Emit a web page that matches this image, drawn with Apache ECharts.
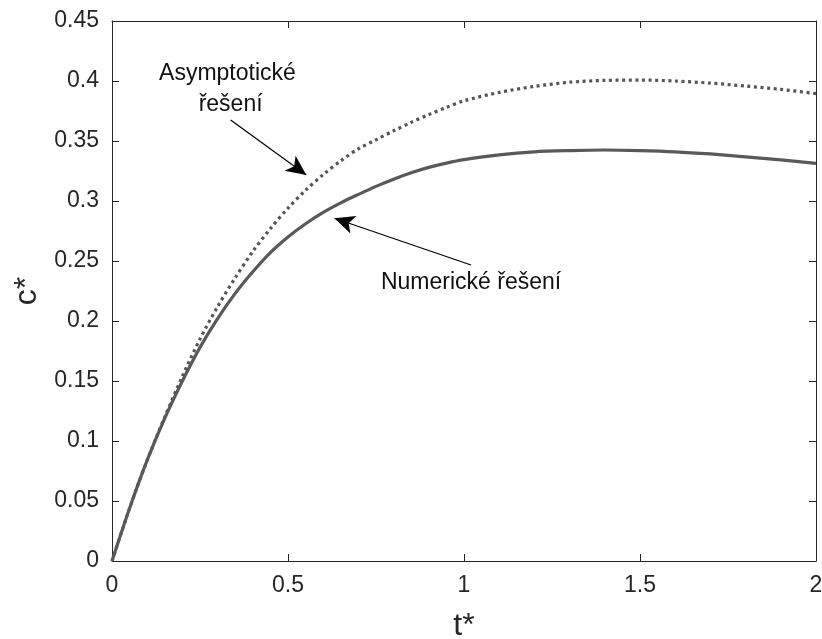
<!DOCTYPE html>
<html>
<head>
<meta charset="utf-8">
<script src="https://cdn.jsdelivr.net/npm/echarts@6/dist/echarts.min.js"></script>
<style>html,body{margin:0;padding:0;background:#fff;}#c{width:822px;height:639px;}</style>
</head>
<body>
<div id="c"></div>
<script>
// t* values
var tValues = [0, 0.05, 0.1, 0.15, 0.2, 0.25, 0.3, 0.35, 0.4, 0.45, 0.5, 0.55, 0.6, 0.65, 0.7, 0.75, 0.8, 0.85, 0.9, 0.95, 1.0, 1.1, 1.2, 1.3, 1.4, 1.5, 1.6, 1.7, 1.8, 1.9, 2.0];
// Numerické řešení (solid)
var numericValues = [0, 0.044, 0.084, 0.119, 0.150, 0.178, 0.202, 0.223, 0.241, 0.257, 0.270, 0.281, 0.2905, 0.2985, 0.3055, 0.3122, 0.3182, 0.3235, 0.328, 0.3316, 0.3345, 0.3385, 0.341, 0.342, 0.3425, 0.342, 0.341, 0.3392, 0.3368, 0.3342, 0.3314];
// Asymptotické řešení (dotted)
var asymptoticValues = [0, 0.044, 0.084, 0.120, 0.154, 0.185, 0.212, 0.236, 0.258, 0.277, 0.294, 0.309, 0.322, 0.3335, 0.3435, 0.351, 0.3585, 0.3655, 0.372, 0.378, 0.3835, 0.3905, 0.3955, 0.399, 0.4005, 0.4008, 0.4, 0.3982, 0.3958, 0.393, 0.3895];
var xTicks = [0, 0.5, 1, 1.5, 2];
var yTicks = [0, 0.05, 0.1, 0.15, 0.2, 0.25, 0.3, 0.35, 0.4, 0.45];
// annotation arrows in data coordinates: [from, to]
var arrowAsym = [[0.337, 0.3675], [0.552, 0.3217]];
var arrowNum = [[1.020, 0.2467], [0.632, 0.2856]];
var labelAsym1 = {text: 'Asymptotické', at: [0.328, 0.406]};
var labelAsym2 = {text: 'řešení', at: [0.337, 0.380]};
var labelNum = {text: 'Numerické řešení', at: [1.020, 0.232]};

function pairs(xs, ys) { return xs.map(function (x, i) { return [x, ys[i]]; }); }

var axisColor = '#262626';
var fontFam = '"Liberation Sans", Arial, Helvetica, sans-serif';
var chart = echarts.init(document.getElementById('c'), null, {renderer: 'canvas'});

function baseX(extra) {
  return Object.assign({
    type: 'value', min: 0, max: 2, interval: 0.5,
    axisLine: {show: true, onZero: false, lineStyle: {color: axisColor, width: 1}},
    axisTick: {show: true, inside: true, length: 7, lineStyle: {color: axisColor}},
    splitLine: {show: false}
  }, extra);
}
function baseY(extra) {
  return Object.assign({
    type: 'value', min: 0, max: 0.45, interval: 0.05,
    axisLine: {show: true, onZero: false, lineStyle: {color: axisColor, width: 1}},
    axisTick: {show: true, inside: true, length: 7, lineStyle: {color: axisColor}},
    splitLine: {show: false}
  }, extra);
}

var option = {
  animation: false,
  backgroundColor: '#fff',
  grid: {left: 112, right: 6, top: 21, bottom: 78, containLabel: false, outerBoundsMode: 'none'},
  xAxis: [
    baseX({
      position: 'bottom',
      name: 't*', nameLocation: 'middle', nameGap: 49,
      nameTextStyle: {fontSize: 32, color: axisColor, fontFamily: fontFam},
      axisLabel: {show: true, fontSize: 23, color: axisColor, fontFamily: fontFam, margin: 13,
        formatter: function (v) { return xTicks.indexOf(+v.toFixed(2)) >= 0 ? String(+v.toFixed(2)) : ''; }}
    }),
    baseX({position: 'top', axisLabel: {show: false}})
  ],
  yAxis: [
    baseY({
      position: 'left',
      name: 'c*', nameLocation: 'middle', nameGap: 64, nameRotate: 90,
      nameTextStyle: {fontSize: 32, color: axisColor, fontFamily: fontFam},
      axisLabel: {show: true, fontSize: 23, color: axisColor, fontFamily: fontFam, margin: 13,
        formatter: function (v) { var r = +v.toFixed(2); return yTicks.indexOf(r) >= 0 ? String(r) : ''; }}
    }),
    baseY({position: 'right', axisLabel: {show: false}})
  ],
  series: [
    {
      name: 'Asymptotické řešení', type: 'line', smooth: 0.3, showSymbol: false,
      data: pairs(tValues, asymptoticValues),
      lineStyle: {color: '#555555', width: 3.2, type: [3, 3.6], cap: 'butt'},
      z: 2
    },
    {
      name: 'Numerické řešení', type: 'line', smooth: 0.3, showSymbol: false,
      data: pairs(tValues, numericValues),
      lineStyle: {color: '#595959', width: 3.2, type: 'solid'},
      z: 3,
      markLine: {
        silent: true, animation: false,
        symbol: ['none', 'arrow'], symbolSize: [14, 20],
        label: {show: false},
        lineStyle: {color: '#000', width: 1.2, type: 'solid'},
        data: [
          [{coord: arrowAsym[0]}, {coord: arrowAsym[1]}],
          [{coord: arrowNum[0]}, {coord: arrowNum[1]}]
        ]
      }
    }
  ]
};
chart.setOption(option);

function txt(lbl) {
  var p = chart.convertToPixel({xAxisIndex: 0, yAxisIndex: 0}, lbl.at);
  return {
    type: 'text', x: p[0], y: p[1],
    style: {text: lbl.text, fill: '#111', font: '23px ' + fontFam, align: 'center', verticalAlign: 'middle'}
  };
}
chart.setOption({graphic: [txt(labelAsym1), txt(labelAsym2), txt(labelNum)]});
</script>
</body>
</html>
